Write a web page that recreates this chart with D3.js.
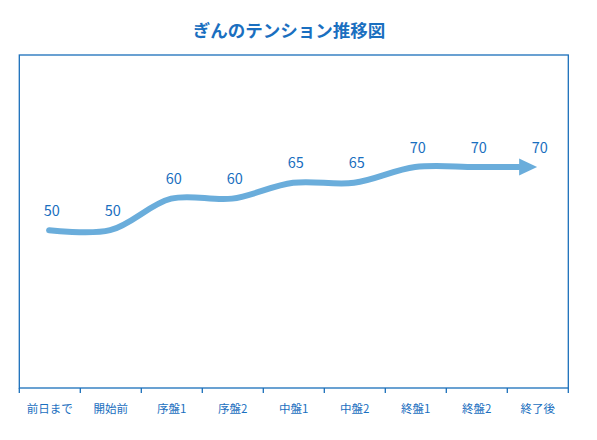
<!DOCTYPE html>
<html><head><meta charset="utf-8">
<script src="https://cdn.jsdelivr.net/npm/d3@7"></script>
<style>body{margin:0;background:#fff}svg{display:block}</style>
</head><body>
<script>
const title = "ぎんのテンション推移図";
const categories = ["前日まで","開始前","序盤1","序盤2","中盤1","中盤2","終盤1","終盤2","終了後"];
const values = [50,50,60,60,65,65,70,70,70];

const W = 597, H = 440;
const axisColor = "#1a6fba", textColor = "#1a6fc0", lineColor = "#6aaddb";
const font = "'Noto Sans CJK JP','Noto Sans',sans-serif";

const svg = d3.select("body").append("svg").attr("width", W).attr("height", H);
const x = d3.scaleBand().domain(categories).range([19.3, 568.3]);
const y = d3.scaleLinear().domain([0, 105.5]).range([388, 55]);

svg.append("text").attr("x", 289).attr("y", 37).attr("text-anchor","middle")
  .attr("font-family", font).attr("font-weight","bold").attr("font-size", 17.5)
  .attr("fill", "#1a6fc0").text(title);

// frame
svg.append("rect").attr("x", x.range()[0]).attr("y", y(105.5))
  .attr("width", x.range()[1]-x.range()[0]).attr("height", y(0)-y(105.5))
  .attr("fill","none").attr("stroke", axisColor).attr("stroke-width",1.3);

const xAxis = svg.append("g").attr("transform", `translate(0,${y(0)})`);
const bounds = categories.map(c => x(c)).concat([x.range()[1]]);
xAxis.selectAll("line").data(bounds).join("line")
  .attr("x1", d=>d).attr("x2", d=>d).attr("y1", 0).attr("y2", 5)
  .attr("stroke", axisColor).attr("stroke-width",1.3);
xAxis.selectAll("text").data(categories).join("text")
  .attr("x", d => x(d)+x.bandwidth()/2).attr("y", 25).attr("text-anchor","middle")
  .attr("font-family", font).attr("font-size", 11.5).attr("fill", textColor).text(d=>d);

const pts = categories.map((c,i)=>[x(c)+x.bandwidth()/2 - 0.7, y(values[i])]);
const line = d3.line().curve(d3.curveCatmullRom.alpha(0.5));
const path = svg.append("path").attr("d", line(pts)).attr("fill","none")
  .attr("stroke", lineColor).attr("stroke-width", 6).attr("stroke-linecap","round");
const L = path.node().getTotalLength();
path.attr("stroke-dasharray", `${L-19} ${L}`);
const last = pts[pts.length-1];
svg.append("path")
  .attr("d", `M${last[0]},${last[1]} L${last[0]-18},${last[1]-8.5} L${last[0]-18},${last[1]+8.5} Z`)
  .attr("fill", lineColor);

svg.selectAll(".val").data(values).join("text").attr("class","val")
  .attr("x", (d,i)=>x(categories[i])+x.bandwidth()/2+2).attr("y", d=>y(d)-14.5)
  .attr("text-anchor","middle").attr("font-family", font).attr("font-size", 14.5)
  .attr("fill", textColor).text(d=>d);
</script>
</body></html>
